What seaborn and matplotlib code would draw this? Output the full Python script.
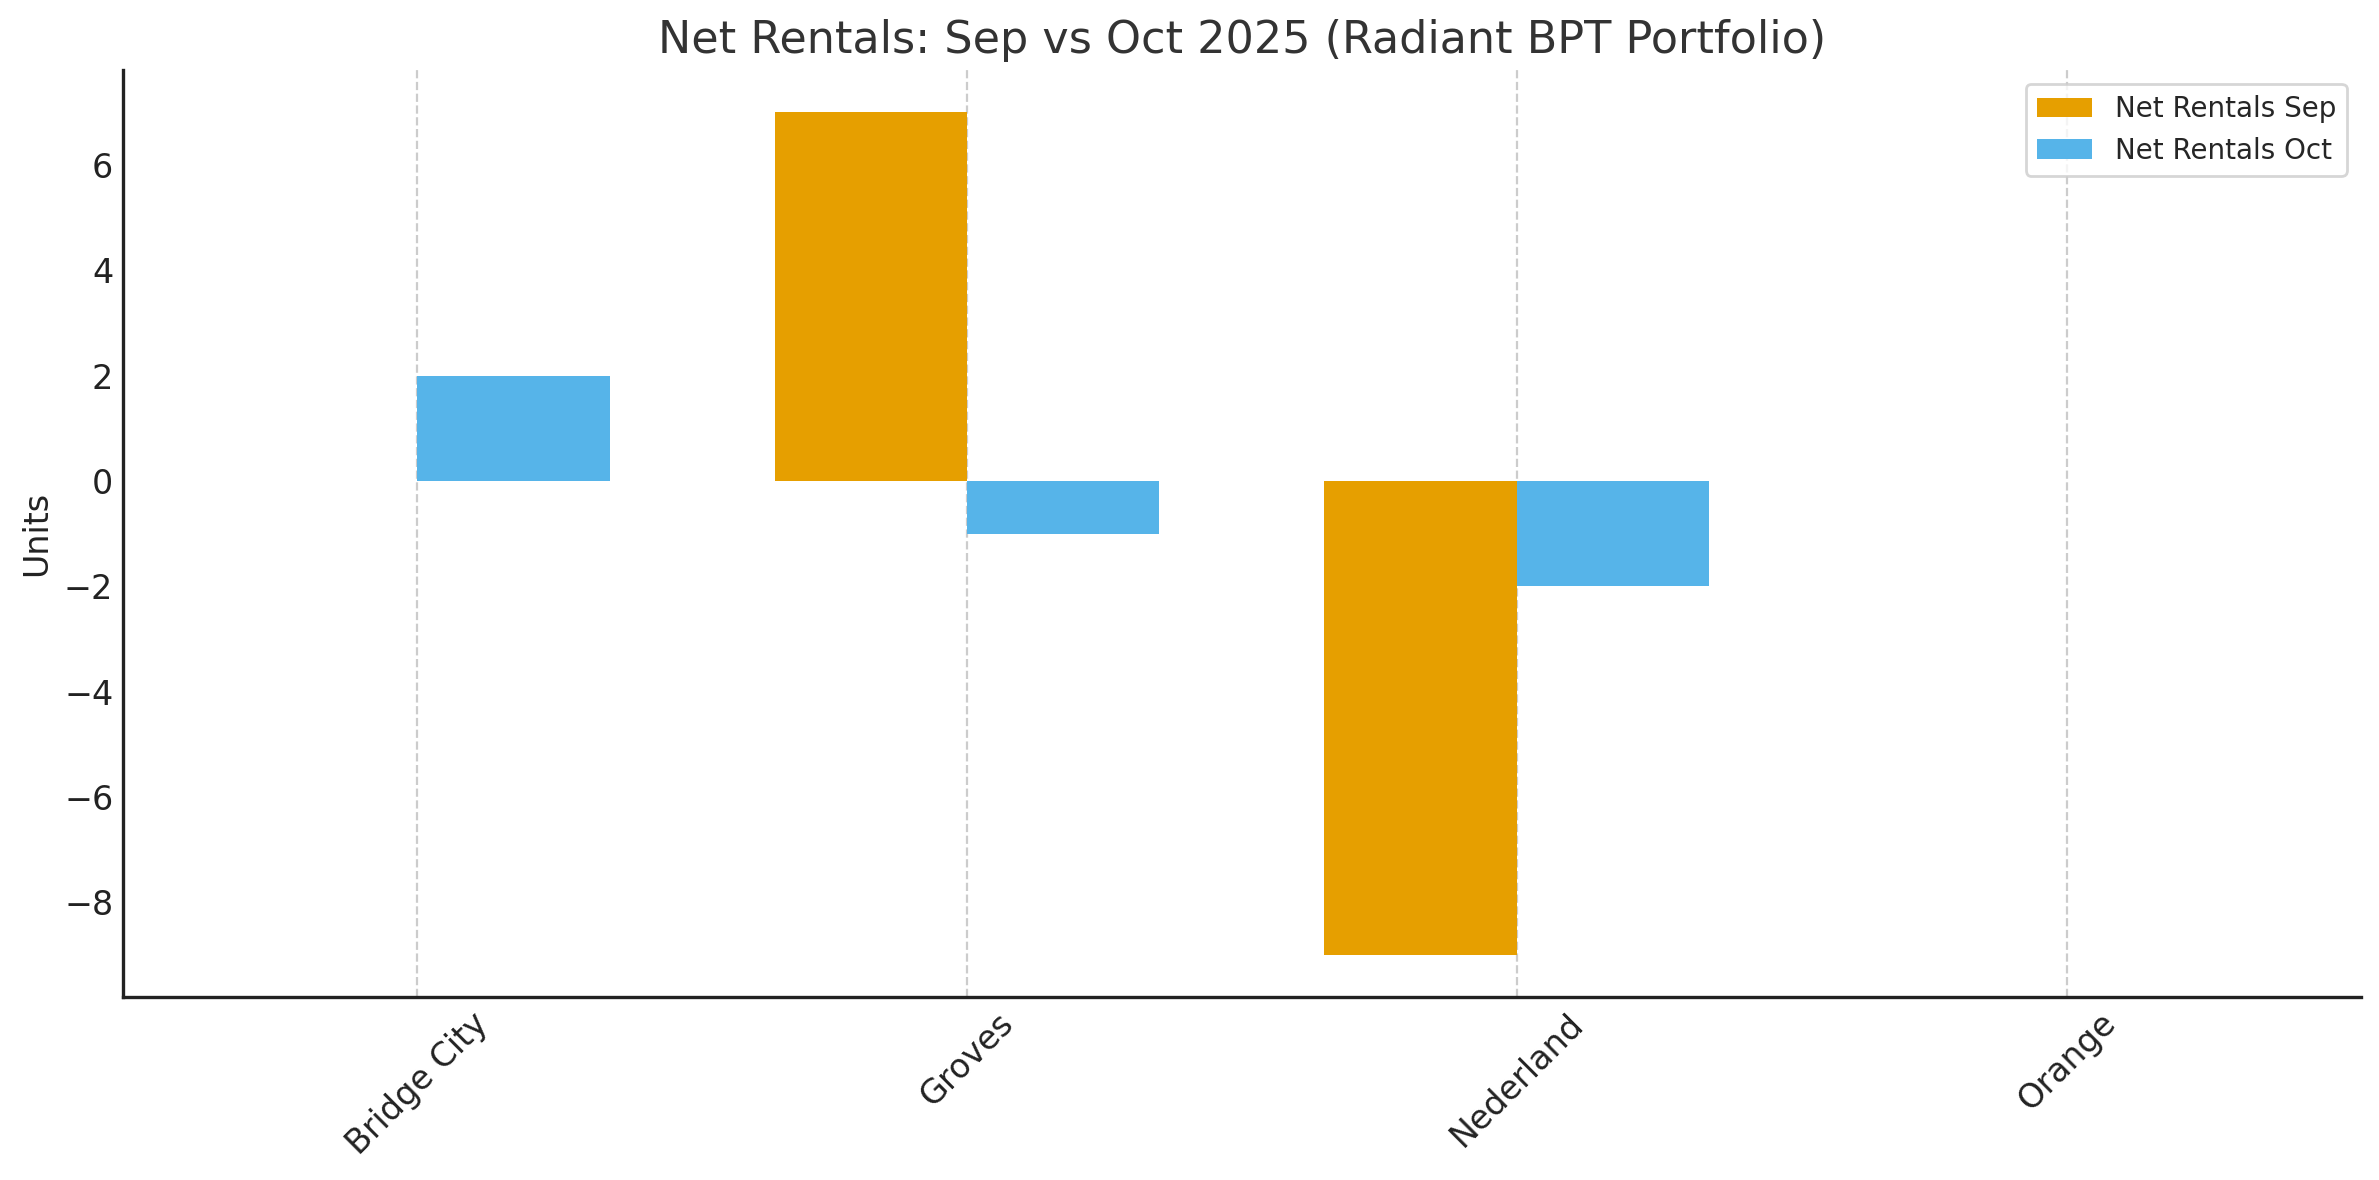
import pandas as pd
import matplotlib
matplotlib.use("Agg")
import matplotlib.pyplot as plt
import seaborn as sns

# values
cities = ["Bridge City", "Groves", "Nederland", "Orange"]
net_rentals_sep = [0, 7, -9, 0]
net_rentals_oct = [2, -1, -2, 0]
series_names = ["Net Rentals Sep", "Net Rentals Oct"]
palette = ["#E69F00", "#56B4E9"]

df = pd.DataFrame({
    "city": cities * 2,
    "series": [series_names[0]] * len(cities) + [series_names[1]] * len(cities),
    "value": net_rentals_sep + net_rentals_oct,
})

sns.set_theme(style="white")
plt.rcParams["font.family"] = ["DejaVu Sans"]
plt.rcParams.update({"xtick.direction": "in", "ytick.direction": "in"})

fig, ax = plt.subplots(figsize=(11.895, 5.9), dpi=200)
sns.barplot(
    data=df, x="city", y="value", hue="series",
    palette=palette, saturation=1, width=0.7, errorbar=None,
    linewidth=0, ax=ax,
)

# let matplotlib pick x limits with the usual 5% margin, like plain plt.bar
ax.set_autoscalex_on(True)
ax.margins(x=0.05)
ax.relim()
ax.autoscale_view(scaley=False)

ax.set_title("Net Rentals: Sep vs Oct 2025 (Radiant BPT Portfolio)", fontsize=16, color="#333333")
ax.set_xlabel("")
ax.set_ylabel("Units", fontsize=12, color="#222222")
ax.tick_params(axis="x", labelsize=12, rotation=45, length=4, width=1.2,
               color="#222222", labelcolor="#222222")
ax.tick_params(axis="y", labelsize=12, length=4, width=1.2,
               color="#222222", labelcolor="#222222")
for lbl in ax.get_xticklabels():
    lbl.set_ha("center")

ax.xaxis.grid(True, linestyle="--", color="#cccccc", linewidth=0.8)
ax.yaxis.grid(False)
ax.set_axisbelow(True)
sns.despine(ax=ax)
for side in ["left", "bottom"]:
    ax.spines[side].set_color("#222222")
    ax.spines[side].set_linewidth(1.2)

ax.legend(title=None, loc="upper right", fontsize=10)

plt.subplots_adjust(left=0.0517, right=0.9924, top=0.9407, bottom=0.155)
plt.savefig("out.png", dpi=200)
plt.close()
